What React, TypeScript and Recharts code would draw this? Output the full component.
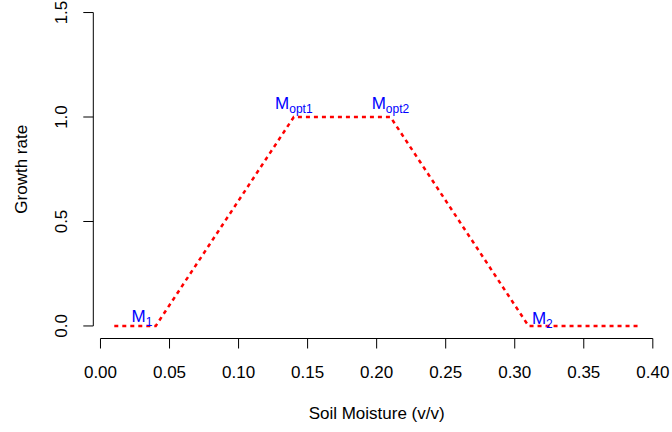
import { LineChart, Line, XAxis, YAxis, ReferenceLine, ReferenceDot, Label } from 'recharts'

const moisture = [0.01, 0.04, 0.14, 0.21, 0.31, 0.39]
const growth = [0, 0, 1, 1, 0, 0]

const xTicks = [0, 0.05, 0.1, 0.15, 0.2, 0.25, 0.3, 0.35, 0.4]
const yTicks = [0, 0.5, 1, 1.5]

// threshold labels: M with a subscript
const labelX = [0.03, 0.14, 0.21, 0.32]
const labelY = [0.045, 1.06, 1.06, 0.035]
const labelSub = ['1', 'opt1', 'opt2', '2']

// R-style 4% padding around the data
const xDomain = [-0.0052, 0.4052]
const yDomain = [-0.06, 1.56]

const data = moisture.map((x, i) => ({ x, y: growth[i] }))

const FONT = '"Liberation Sans", Arial, Helvetica, sans-serif'

function YTick(props: any) {
  const { x, y, payload } = props
  const bx = x - 14
  return (
    <text
      x={bx}
      y={y}
      transform={`rotate(-90 ${bx} ${y})`}
      textAnchor="middle"
      fontSize={17}
      fill="#000"
    >
      {Number(payload.value).toFixed(1)}
    </text>
  )
}

function MLabel(props: any) {
  const { cx, cy, sub } = props
  return (
    <text x={cx} y={cy + 5} textAnchor="middle" fill="#0000ff" fontSize={17}>
      <tspan>M</tspan>
      <tspan fontSize={12} dy={4}>
        {sub}
      </tspan>
    </text>
  )
}

export default function App() {
  return (
    <div style={{ position: 'absolute', left: 0, top: 0, fontFamily: FONT }}>
      <LineChart width={672} height={432} data={data} margin={{ top: 0, right: 12, left: 0, bottom: 0 }}>
        <XAxis
          dataKey="x"
          type="number"
          domain={xDomain}
          ticks={xTicks}
          interval={0}
          tickFormatter={(v: number) => v.toFixed(2)}
          tick={{ fontSize: 17, fill: '#000' }}
          tickSize={10}
          tickMargin={17}
          tickLine={{ stroke: '#000' }}
          axisLine={false}
          height={93.5}
        >
          <Label
            content={({ viewBox }: any) => (
              <text
                x={viewBox.x + viewBox.width / 2}
                y={viewBox.y + 80}
                textAnchor="middle"
                fontSize={17}
                fill="#000"
              >
                Soil Moisture (v/v)
              </text>
            )}
          />
        </XAxis>
        <YAxis
          type="number"
          domain={yDomain}
          ticks={yTicks}
          interval={0}
          tick={(p: any) => <YTick {...p} />}
          tickSize={10}
          tickLine={{ stroke: '#000' }}
          axisLine={false}
          width={93.3}
        >
          <Label
            content={({ viewBox }: any) => {
              const cy = viewBox.y + viewBox.height / 2
              return (
                <text x={27} y={cy} transform={`rotate(-90 27 ${cy})`} textAnchor="middle" fontSize={17} fill="#000">
                  Growth rate
                </text>
              )
            }}
          />
        </YAxis>
        {/* axis lines only span the tick range, like base R */}
        <ReferenceLine
          segment={[
            { x: xTicks[0], y: yDomain[0] },
            { x: xTicks[xTicks.length - 1], y: yDomain[0] },
          ]}
          stroke="#000"
        />
        <ReferenceLine
          segment={[
            { x: xDomain[0], y: yTicks[0] },
            { x: xDomain[0], y: yTicks[yTicks.length - 1] },
          ]}
          stroke="#000"
        />
        <Line
          type="linear"
          dataKey="y"
          stroke="#ff0000"
          strokeWidth={2.5}
          strokeDasharray="4 4"
          dot={false}
          isAnimationActive={false}
        />
        {labelX.map((lx, i) => (
          <ReferenceDot
            key={labelSub[i]}
            x={lx}
            y={labelY[i]}
            r={0}
            shape={(p: any) => <MLabel {...p} sub={labelSub[i]} />}
          />
        ))}
      </LineChart>
    </div>
  )
}
